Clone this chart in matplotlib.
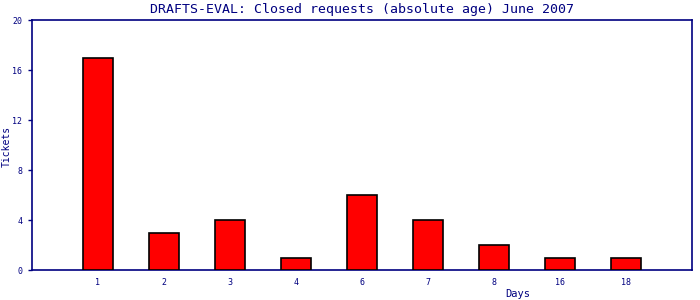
import matplotlib
matplotlib.use("Agg")
import matplotlib.pyplot as plt
import numpy as np

categories = ["1", "2", "3", "4", "6", "7", "8", "16", "18"]
values = [17, 3, 4, 1, 6, 4, 2, 1, 1]
yticks = [0, 4, 8, 12, 16, 20]

navy = "#000080"
fig = plt.figure(figsize=(7, 3), dpi=100)
ax = fig.add_axes([32/700, 30/300, 660/700, 250/300])
x = np.arange(len(categories))
ax.bar(x, values, width=0.44, color="#ff0000", edgecolor="black", linewidth=1.2, zorder=3)
ax.set_xlim(-1, len(categories))
ax.set_ylim(0, 20)
ax.set_xticks(x)
ax.set_xticklabels(categories)
ax.set_yticks(yticks)
for s in ax.spines.values():
    s.set_color(navy)
    s.set_linewidth(1.2)
ax.tick_params(axis="x", length=0, colors=navy, labelsize=6, pad=6)
ax.tick_params(axis="y", length=3, colors=navy, labelsize=6, pad=4, width=1)
for lab in ax.get_xticklabels() + ax.get_yticklabels():
    lab.set_family("DejaVu Sans Mono")
ax.set_title("DRAFTS-EVAL: Closed requests (absolute age) June 2007",
             fontsize=9.5, color=navy, family="DejaVu Sans Mono", pad=5)
fig.text(518/700, 1 - 294/300, "Days", ha="center", va="center", fontsize=7.5,
         color=navy, family="DejaVu Sans Mono")
fig.text(7/700, 1 - 146/300, "Tickets", ha="center", va="center", rotation=90,
         fontsize=7, color=navy, family="DejaVu Sans Mono")
fig.savefig("out.png", dpi=100)
